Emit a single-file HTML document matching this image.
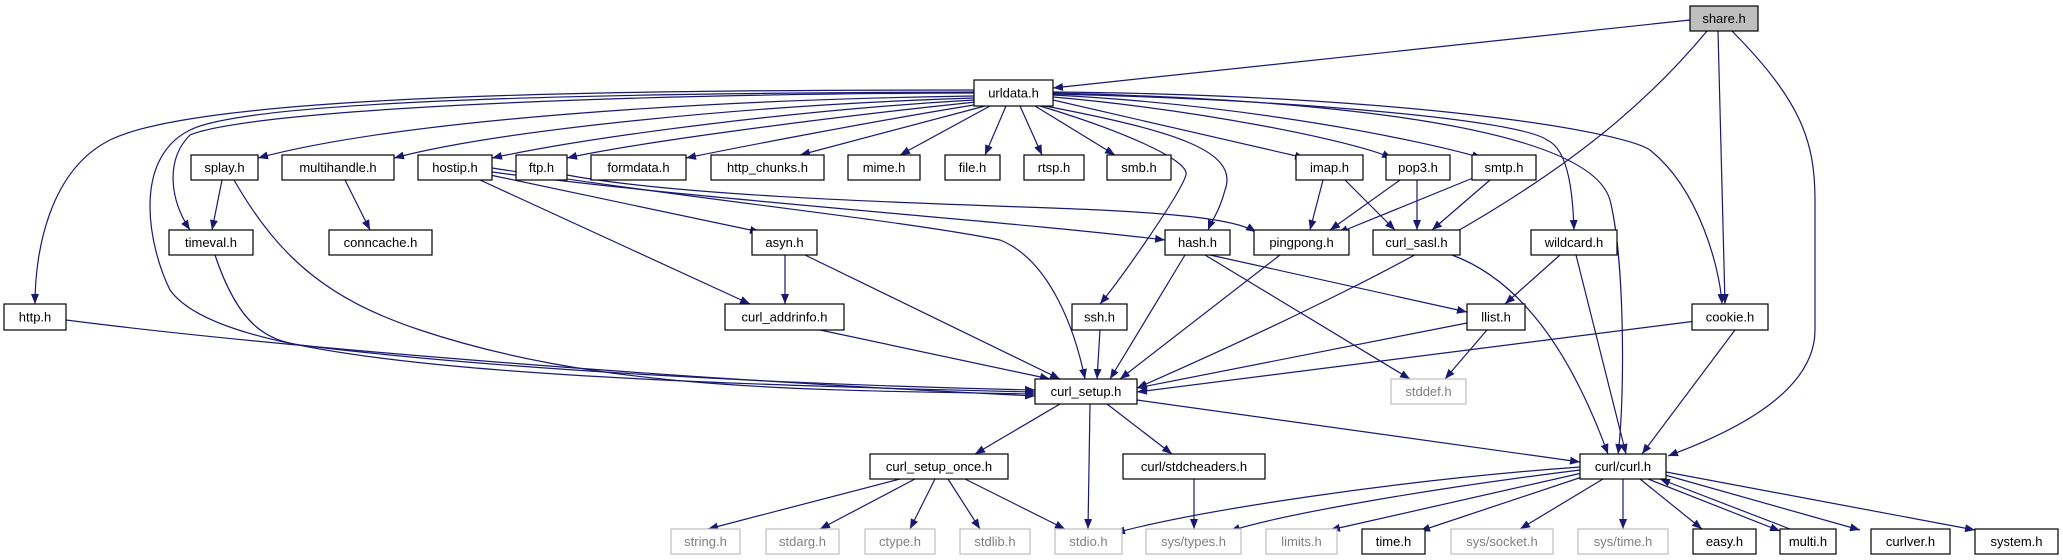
<!DOCTYPE html>
<html><head><meta charset="utf-8"><style>
html,body{margin:0;padding:0;background:#fff;}
svg{display:block}
text{font-family:"Liberation Sans",sans-serif;font-size:13px;text-anchor:middle;dominant-baseline:central}
.n rect{fill:#fff;stroke:#000;stroke-width:1.2}
.g rect{fill:#fff;stroke:#bfbfbf;stroke-width:1.2}
.g text{fill:#7f7f7f}
path{fill:none;stroke:#191970;stroke-width:1.2}
</style></head><body>
<svg width="2063" height="560" viewBox="0 0 2063 560" xmlns="http://www.w3.org/2000/svg">
<defs><marker id="a" viewBox="0 0 10 8" refX="10" refY="4" markerWidth="10" markerHeight="8" markerUnits="userSpaceOnUse" orient="auto"><polygon points="0,0 10,4 0,8" fill="#191970"/></marker></defs>
<g marker-end="url(#a)">
<path d="M1690,20 L1053,88"/>
<path d="M1707,31 C1600,160 1450,250 1137,388"/>
<path d="M1718,31 L1725,304"/>
<path d="M1732,31 C1800,100 1815,140 1815,200 L1815,330 C1815,400 1710,440 1668,456"/>
<path d="M974,90 C600,90 200,95 110,140 C50,170 35,250 35,304"/>
<path d="M974,92 C600,93 250,100 190,130 C130,160 150,250 170,290 C220,360 500,380 1035,392"/>
<path d="M974,93 C600,94 250,110 190,135 C165,160 170,200 190,230"/>
<path d="M974,96 C700,100 400,120 258,158"/>
<path d="M974,98 C750,105 500,130 394,158"/>
<path d="M974,100 C800,110 600,135 492,158"/>
<path d="M976,102 C850,115 650,140 567,158"/>
<path d="M980,104 C880,120 750,145 686,158"/>
<path d="M985,106 L800,155"/>
<path d="M990,106 L900,155"/>
<path d="M1006,106 L985,155"/>
<path d="M1020,106 L1042,155"/>
<path d="M1035,106 L1115,155"/>
<path d="M1053,100 L1305,158"/>
<path d="M1053,97 C1200,110 1350,140 1392,158"/>
<path d="M1053,95 C1250,105 1420,140 1482,158"/>
<path d="M1053,94 C1300,100 1520,120 1547,140 C1570,150 1573,200 1574,230"/>
<path d="M1053,93 C1350,100 1590,130 1610,200 C1625,260 1625,400 1618,454"/>
<path d="M1053,92 C1400,95 1620,130 1650,150 C1700,190 1720,270 1722,304"/>
<path d="M1045,106 C1170,130 1240,150 1225,190 C1220,210 1212,220 1208,230"/>
<path d="M1040,106 C1120,130 1190,160 1186,175 C1180,195 1120,280 1100,304"/>
<path d="M222,180 L212,230"/>
<path d="M234,180 C280,260 330,300 420,330 C600,390 800,390 1035,394"/>
<path d="M345,180 L370,230"/>
<path d="M490,175 L760,232"/>
<path d="M480,180 L750,304"/>
<path d="M492,172 C700,200 1000,220 1165,240"/>
<path d="M492,168 C700,200 900,220 1000,240 C1050,260 1075,330 1085,379"/>
<path d="M567,175 C700,200 1000,205 1100,210 C1200,215 1240,222 1256,232"/>
<path d="M215,255 C240,330 270,340 300,345 C500,370 800,385 1035,390"/>
<path d="M66,320 C300,350 700,380 1035,396"/>
<path d="M785,255 L785,304"/>
<path d="M805,255 L1060,379"/>
<path d="M820,330 L1050,379"/>
<path d="M1100,330 L1097,379"/>
<path d="M1185,255 L1110,379"/>
<path d="M1210,255 L1467,312"/>
<path d="M1205,255 L1410,379"/>
<path d="M1280,255 L1120,379"/>
<path d="M1323,180 L1310,230"/>
<path d="M1345,180 L1395,230"/>
<path d="M1400,180 L1330,230"/>
<path d="M1417,180 L1417,230"/>
<path d="M1473,178 L1338,233"/>
<path d="M1490,180 L1432,230"/>
<path d="M1452,255 C1520,280 1570,350 1608,454"/>
<path d="M1560,255 L1505,304"/>
<path d="M1576,255 L1626,454"/>
<path d="M1467,323 L1137,388"/>
<path d="M1487,330 L1445,379"/>
<path d="M1704,320 L1137,392"/>
<path d="M1735,330 L1642,454"/>
<path d="M1060,404 L975,454"/>
<path d="M1090,404 L1088,529"/>
<path d="M1107,404 L1172,454"/>
<path d="M1137,400 L1580,462"/>
<path d="M900,479 L708,529"/>
<path d="M915,479 L820,529"/>
<path d="M935,479 L910,529"/>
<path d="M948,479 L980,529"/>
<path d="M965,479 L1065,529"/>
<path d="M1194,479 L1194,529"/>
<path d="M1580,467 C1400,480 1200,510 1115,533"/>
<path d="M1580,470 C1420,490 1280,515 1230,531"/>
<path d="M1582,473 L1330,530"/>
<path d="M1585,476 L1420,531"/>
<path d="M1603,479 L1520,529"/>
<path d="M1623,479 L1623,529"/>
<path d="M1640,479 L1702,529"/>
<path d="M1648,479 L1780,531"/>
<path d="M1790,529 L1660,479"/>
<path d="M1665,475 L1860,530"/>
<path d="M1666,472 L1975,530"/>
</g>
<g class="n"><rect x="1690" y="6" width="68" height="25" style="fill:#bfbfbf"/><text x="1724" y="18.5">share.h</text></g>
<g class="n"><rect x="974" y="80" width="79" height="26"/><text x="1013.5" y="93">urldata.h</text></g>
<g class="n"><rect x="191" y="155" width="67" height="25"/><text x="224.5" y="167.5">splay.h</text></g>
<g class="n"><rect x="282" y="155" width="112" height="25"/><text x="338" y="167.5">multihandle.h</text></g>
<g class="n"><rect x="418" y="155" width="74" height="25"/><text x="455" y="167.5">hostip.h</text></g>
<g class="n"><rect x="516" y="155" width="51" height="25"/><text x="541.5" y="167.5">ftp.h</text></g>
<g class="n"><rect x="591" y="155" width="95" height="25"/><text x="638.5" y="167.5">formdata.h</text></g>
<g class="n"><rect x="711" y="155" width="113" height="25"/><text x="767.5" y="167.5">http_chunks.h</text></g>
<g class="n"><rect x="848" y="155" width="72" height="25"/><text x="884" y="167.5">mime.h</text></g>
<g class="n"><rect x="945" y="155" width="55" height="25"/><text x="972.5" y="167.5">file.h</text></g>
<g class="n"><rect x="1024" y="155" width="60" height="25"/><text x="1054" y="167.5">rtsp.h</text></g>
<g class="n"><rect x="1107" y="155" width="64" height="25"/><text x="1139" y="167.5">smb.h</text></g>
<g class="n"><rect x="1296" y="155" width="67" height="25"/><text x="1329.5" y="167.5">imap.h</text></g>
<g class="n"><rect x="1386" y="155" width="64" height="25"/><text x="1418" y="167.5">pop3.h</text></g>
<g class="n"><rect x="1472" y="155" width="64" height="25"/><text x="1504" y="167.5">smtp.h</text></g>
<g class="n"><rect x="169" y="230" width="84" height="25"/><text x="211" y="242.5">timeval.h</text></g>
<g class="n"><rect x="329" y="230" width="103" height="25"/><text x="380.5" y="242.5">conncache.h</text></g>
<g class="n"><rect x="752" y="230" width="65" height="25"/><text x="784.5" y="242.5">asyn.h</text></g>
<g class="n"><rect x="1165" y="230" width="65" height="25"/><text x="1197.5" y="242.5">hash.h</text></g>
<g class="n"><rect x="1254" y="230" width="95" height="25"/><text x="1301.5" y="242.5">pingpong.h</text></g>
<g class="n"><rect x="1373" y="230" width="87" height="25"/><text x="1416.5" y="242.5">curl_sasl.h</text></g>
<g class="n"><rect x="1531" y="230" width="86" height="25"/><text x="1574" y="242.5">wildcard.h</text></g>
<g class="n"><rect x="4" y="304" width="62" height="26"/><text x="35" y="317">http.h</text></g>
<g class="n"><rect x="725" y="304" width="119" height="26"/><text x="784.5" y="317">curl_addrinfo.h</text></g>
<g class="n"><rect x="1072" y="304" width="55" height="26"/><text x="1099.5" y="317">ssh.h</text></g>
<g class="n"><rect x="1467" y="304" width="58" height="26"/><text x="1496" y="317">llist.h</text></g>
<g class="n"><rect x="1692" y="304" width="76" height="26"/><text x="1730" y="317">cookie.h</text></g>
<g class="g"><rect x="1391" y="379" width="75" height="25"/><text x="1428.5" y="391.5">stddef.h</text></g>
<g class="n"><rect x="1035" y="379" width="102" height="25"/><text x="1086" y="391.5">curl_setup.h</text></g>
<g class="n"><rect x="870" y="454" width="138" height="25"/><text x="939" y="466.5">curl_setup_once.h</text></g>
<g class="n"><rect x="1123" y="454" width="142" height="25"/><text x="1194" y="466.5">curl/stdcheaders.h</text></g>
<g class="n"><rect x="1580" y="454" width="86" height="25"/><text x="1623" y="466.5">curl/curl.h</text></g>
<g class="g"><rect x="671" y="529" width="69" height="25"/><text x="705.5" y="541.5">string.h</text></g>
<g class="g"><rect x="766" y="529" width="73" height="25"/><text x="802.5" y="541.5">stdarg.h</text></g>
<g class="g"><rect x="865" y="529" width="70" height="25"/><text x="900" y="541.5">ctype.h</text></g>
<g class="g"><rect x="960" y="529" width="70" height="25"/><text x="995" y="541.5">stdlib.h</text></g>
<g class="g"><rect x="1055" y="529" width="67" height="25"/><text x="1088.5" y="541.5">stdio.h</text></g>
<g class="g"><rect x="1146" y="529" width="95" height="25"/><text x="1193.5" y="541.5">sys/types.h</text></g>
<g class="g"><rect x="1266" y="529" width="71" height="25"/><text x="1301.5" y="541.5">limits.h</text></g>
<g class="n"><rect x="1362" y="529" width="63" height="25"/><text x="1393.5" y="541.5">time.h</text></g>
<g class="g"><rect x="1451" y="529" width="102" height="25"/><text x="1502" y="541.5">sys/socket.h</text></g>
<g class="g"><rect x="1578" y="529" width="90" height="25"/><text x="1623" y="541.5">sys/time.h</text></g>
<g class="n"><rect x="1693" y="529" width="63" height="25"/><text x="1724.5" y="541.5">easy.h</text></g>
<g class="n"><rect x="1780" y="529" width="56" height="25"/><text x="1808" y="541.5">multi.h</text></g>
<g class="n"><rect x="1871" y="529" width="79" height="25"/><text x="1910.5" y="541.5">curlver.h</text></g>
<g class="n"><rect x="1975" y="529" width="83" height="25"/><text x="2016.5" y="541.5">system.h</text></g>
</svg>
</body></html>
